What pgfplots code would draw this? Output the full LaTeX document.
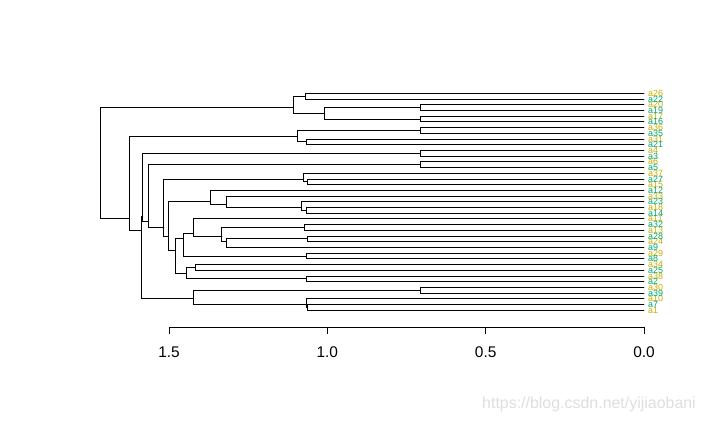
\documentclass[border=0pt]{standalone}
\usepackage{pgfplots}
\pgfplotsset{compat=1.18}
\usepackage{pgfplotstable}
\usetikzlibrary{calc}
\usepackage{fontspec}
\setmainfont{Liberation Sans}

\definecolor{labgold}{RGB}{200,172,0}
\definecolor{labgreen}{RGB}{0,168,110}

% leaf labels, top to bottom (leaf position, label)
\pgfplotstableread{
i lab
1 a26
3 a20
5 a17
7 a36
9 a31
11 a4
13 a6
15 a37
17 a15
19 a33
21 a18
23 a11
25 a13
27 a24
29 a29
31 a34
33 a38
35 a30
37 a10
39 a1
}\goldlabels
\pgfplotstableread{
i lab
2 a22
4 a19
6 a16
8 a35
10 a21
12 a3
14 a5
16 a27
18 a12
20 a23
22 a14
24 a32
26 a28
28 a9
30 a8
32 a25
34 a2
36 a39
38 a7
}\greenlabels

\begin{document}
\begin{tikzpicture}
\begin{axis}[
    name=main,
    width=708bp, height=423bp,
    scale only axis,
    hide axis,
    clip=false,
    x dir=reverse, y dir=reverse,
    xmin=-0.2021, xmax=2.0337,
    ymin=-15.338, ymax=58.735,
    dend/.style={black, line width=0.9bp, line cap=round, mark=none},
]
% each branch: child1 -> node height -> child2 (x = height, y = leaf position)
\addplot[dend] coordinates {(1.107,3.5) (1.716,3.5) (1.716,23) (1.625,23)};
\addplot[dend] coordinates {(1.069,1.5) (1.107,1.5) (1.107,4.5) (1.009,4.5)};
\addplot[dend] coordinates {(0,1) (1.069,1) (1.069,2) (0,2)};
\addplot[dend] coordinates {(0.705,3.5) (1.009,3.5) (1.009,5.5) (0.705,5.5)};
\addplot[dend] coordinates {(0,3) (0.705,3) (0.705,4) (0,4)};
\addplot[dend] coordinates {(0,5) (0.705,5) (0.705,6) (0,6)};
\addplot[dend] coordinates {(1.095,8.5) (1.625,8.5) (1.625,25) (1.587,25)};
\addplot[dend] coordinates {(0.705,7.5) (1.095,7.5) (1.095,9.5) (1.066,9.5)};
\addplot[dend] coordinates {(0,7) (0.705,7) (0.705,8) (0,8)};
\addplot[dend] coordinates {(0,9) (1.066,9) (1.066,10) (0,10)};
\addplot[dend] coordinates {(1.583,22.5) (1.587,22.5) (1.587,37) (1.422,37)};
\addplot[dend] coordinates {(0.705,11.5) (1.583,11.5) (1.583,23.5) (1.565,23.5)};
\addplot[dend] coordinates {(0,11) (0.705,11) (0.705,12) (0,12)};
\addplot[dend] coordinates {(0.705,13.5) (1.565,13.5) (1.565,24.5) (1.516,24.5)};
\addplot[dend] coordinates {(0,13) (0.705,13) (0.705,14) (0,14)};
\addplot[dend] coordinates {(1.076,16) (1.516,16) (1.516,26) (1.502,26)};
\addplot[dend] coordinates {(0,15) (1.076,15) (1.076,16.5) (1.063,16.5)};
\addplot[dend] coordinates {(0,16) (1.063,16) (1.063,17) (0,17)};
\addplot[dend] coordinates {(1.369,20) (1.502,20) (1.502,28.5) (1.479,28.5)};
\addplot[dend] coordinates {(0,18) (1.369,18) (1.369,20.5) (1.319,20.5)};
\addplot[dend] coordinates {(0,19) (1.319,19) (1.319,21) (1.082,21)};
\addplot[dend] coordinates {(0,20) (1.082,20) (1.082,21.5) (1.066,21.5)};
\addplot[dend] coordinates {(0,21) (1.066,21) (1.066,22) (0,22)};
\addplot[dend] coordinates {(1.455,26.5) (1.479,26.5) (1.479,32.5) (1.445,32.5)};
\addplot[dend] coordinates {(1.423,25.5) (1.455,25.5) (1.455,29.5) (1.066,29.5)};
\addplot[dend] coordinates {(0,23) (1.423,23) (1.423,26) (1.333,26)};
\addplot[dend] coordinates {(1.073,24.5) (1.333,24.5) (1.333,27) (1.319,27)};
\addplot[dend] coordinates {(0,24) (1.073,24) (1.073,25) (0,25)};
\addplot[dend] coordinates {(1.063,26.5) (1.319,26.5) (1.319,28) (0,28)};
\addplot[dend] coordinates {(0,26) (1.063,26) (1.063,27) (0,27)};
\addplot[dend] coordinates {(0,29) (1.066,29) (1.066,30) (0,30)};
\addplot[dend] coordinates {(1.417,31.5) (1.445,31.5) (1.445,33.5) (1.066,33.5)};
\addplot[dend] coordinates {(0,31) (1.417,31) (1.417,32) (0,32)};
\addplot[dend] coordinates {(0,33) (1.066,33) (1.066,34) (0,34)};
\addplot[dend] coordinates {(0.705,35.5) (1.422,35.5) (1.422,38) (1.066,38)};
\addplot[dend] coordinates {(0,35) (0.705,35) (0.705,36) (0,36)};
\addplot[dend] coordinates {(0,37) (1.066,37) (1.066,38.5) (1.0625,38.5)};
\addplot[dend] coordinates {(0,38) (1.0625,38) (1.0625,39) (0,39)};

% leaf labels
\addplot[draw=none, nodes near coords, point meta=explicit symbolic,
    nodes near coords style={anchor=west, inner sep=0pt, xshift=4bp,
        font=\fontsize{9}{9}\selectfont, text=labgold}]
    table[x expr=0, y=i, meta=lab] {\goldlabels};
\addplot[draw=none, nodes near coords, point meta=explicit symbolic,
    nodes near coords style={anchor=west, inner sep=0pt, xshift=4bp,
        font=\fontsize{9}{9}\selectfont, text=labgreen}]
    table[x expr=0, y=i, meta=lab] {\greenlabels};

\node[anchor=east, text=black!13, font=\fontsize{16}{16}\selectfont]
    at (axis cs:-0.1747,55.4) {https://blog.csdn.net/yijiaobani};
\end{axis}

% height axis
\begin{axis}[
    at={($(main.south west)+(169bp,96bp)$)}, anchor=south west,
    width=475bp, height=10bp,
    scale only axis,
    x dir=reverse,
    xmin=0, xmax=1.5, ymin=0, ymax=1,
    axis x line=bottom, axis y line=none,
    axis line style={-, line width=0.9bp},
    xtick={0,0.5,1,1.5},
    xticklabels={0.0,0.5,1.0,1.5},
    tick align=outside,
    major tick length=7bp,
    tick style={black, line width=0.9bp},
    xticklabel style={font=\fontsize{15.5}{15.5}\selectfont, yshift=-9bp},
]
\end{axis}
\pgfresetboundingbox
\useasboundingbox (main.south west) rectangle (main.north east);
\end{tikzpicture}
\end{document}
